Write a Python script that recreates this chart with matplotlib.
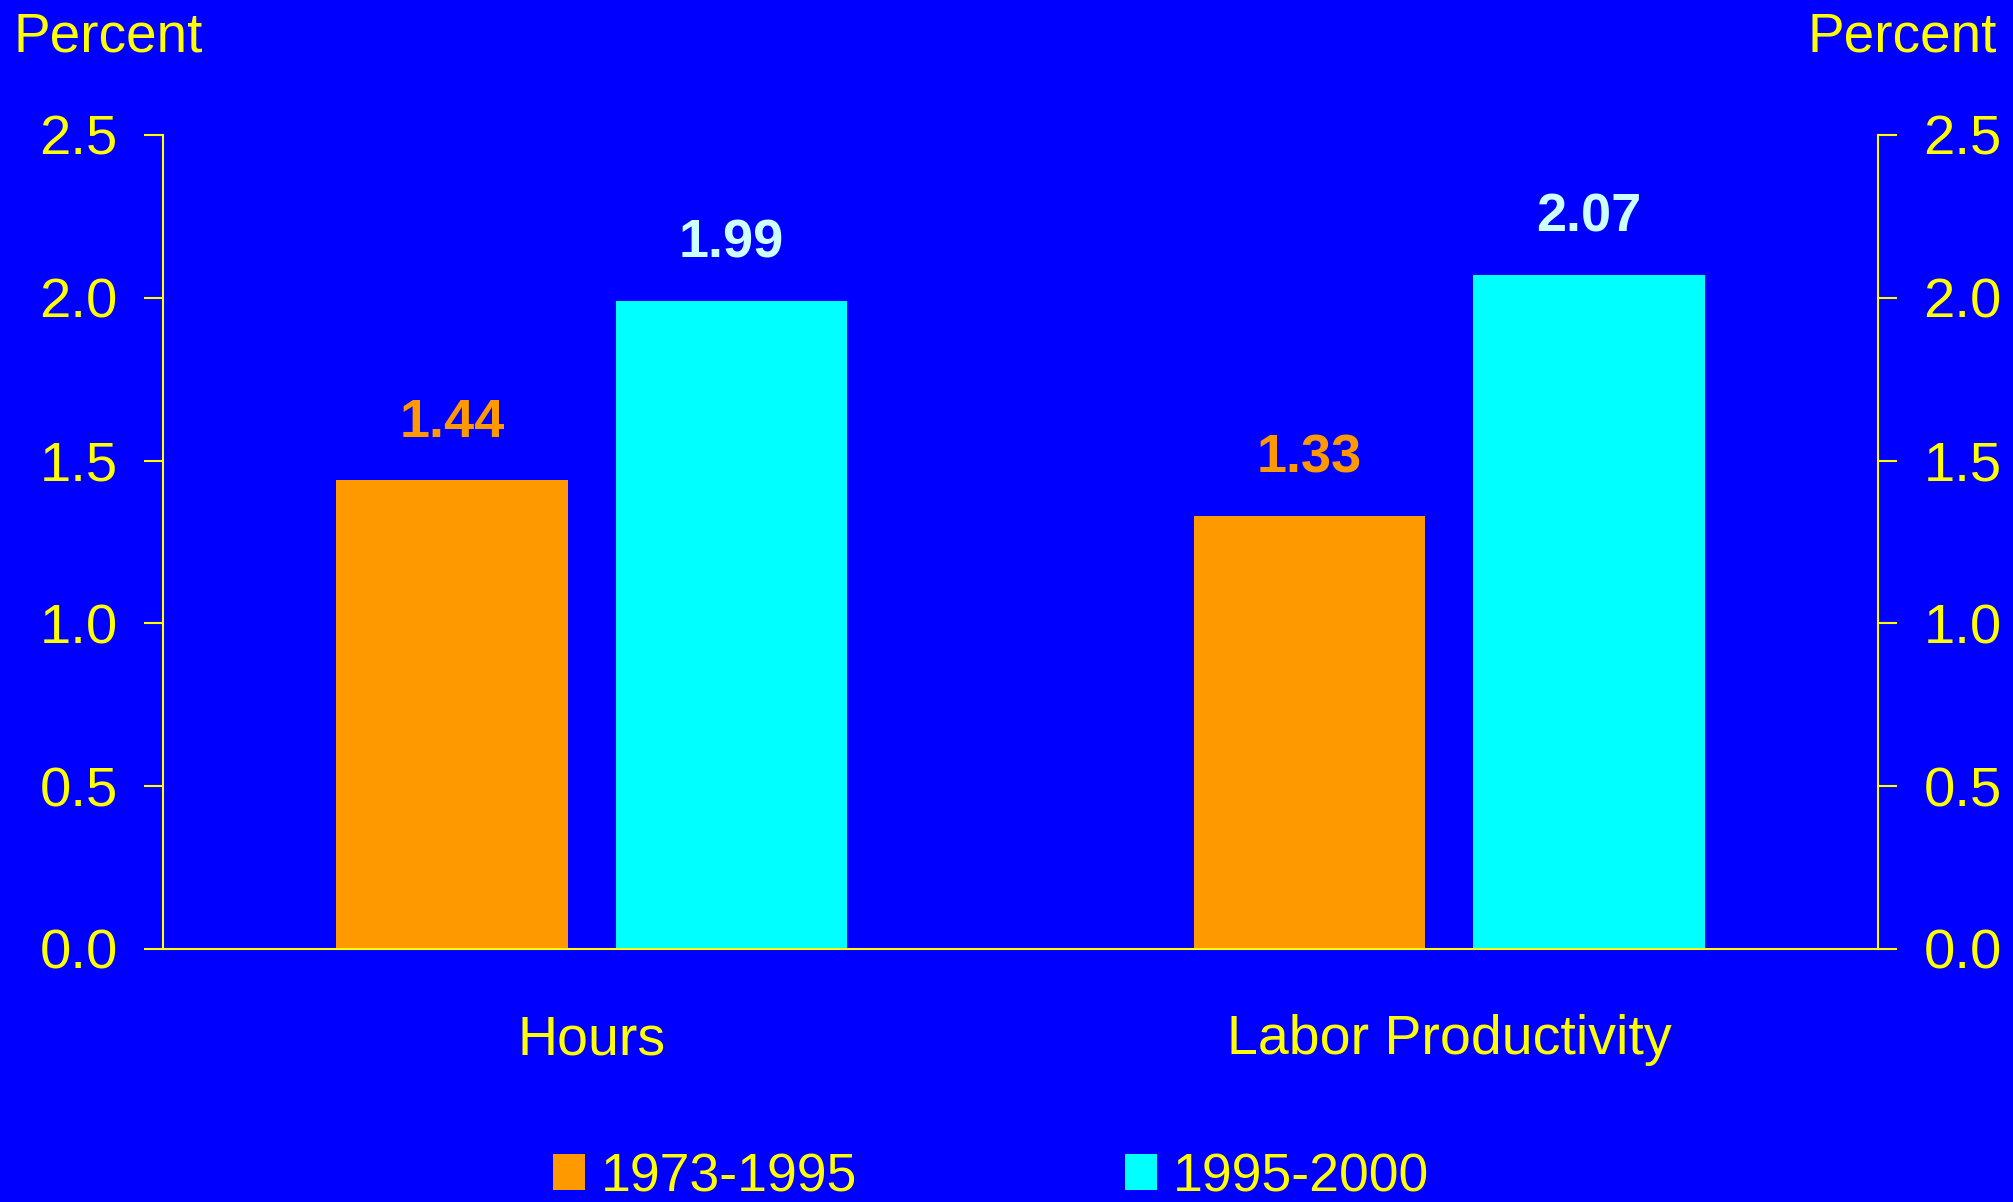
import matplotlib
matplotlib.use("Agg")
import matplotlib.pyplot as plt
import numpy as np
from matplotlib.patches import Patch

# Average annual growth, percent
categories = ["Hours", "Labor Productivity"]
periods = ["1973-1995", "1995-2000"]
growth_1973_1995 = [1.44, 1.33]
growth_1995_2000 = [1.99, 2.07]
y_ticks = [0.0, 0.5, 1.0, 1.5, 2.0, 2.5]

BG = "#0000FF"
YELLOW = "#FFFF00"
ORANGE = "#FF9900"
CYAN = "#00FFFF"
PALE_CYAN = "#CCFFFF"

plt.rcParams["font.family"] = ["Liberation Sans", "DejaVu Sans"]

fig = plt.figure(figsize=(20.13, 12.02), dpi=100, facecolor=BG)
ax = fig.add_axes([0.081, 0.2105, 0.852, 0.6772])
ax.set_facecolor(BG)

x = np.arange(len(categories))
width = 0.27
offset = 0.163

bars1 = ax.bar(x - offset, growth_1973_1995, width, color=ORANGE, label=periods[0])
bars2 = ax.bar(x + offset, growth_1995_2000, width, color=CYAN, label=periods[1])

for bars, vals, col in [(bars1, growth_1973_1995, ORANGE), (bars2, growth_1995_2000, PALE_CYAN)]:
    for b, v in zip(bars, vals):
        ax.annotate(f"{v:.2f}", (b.get_x() + b.get_width() / 2, v),
                    xytext=(0, 31), textcoords="offset points",
                    ha="center", va="baseline", fontsize=39,
                    fontweight="bold", color=col)

ax.set_xlim(-0.5, 1.5)
ax.set_ylim(0, 2.5)
ax.set_yticks(y_ticks)
ax.set_yticklabels([f"{t:.1f}" for t in y_ticks])
ax.set_xticks(x)
ax.set_xticklabels(categories)

for side in ["left", "right", "bottom"]:
    ax.spines[side].set_color(YELLOW)
    ax.spines[side].set_linewidth(1.5)
ax.spines["top"].set_visible(False)

ax.tick_params(axis="y", which="both", left=True, right=True,
               labelleft=True, labelright=True, direction="out",
               length=13.7, width=1.5, color=YELLOW, labelcolor=YELLOW,
               labelsize=40.5, pad=19)
ax.tick_params(axis="x", length=0, labelcolor=YELLOW, labelsize=40, pad=47)

fig.text(13 / 2013, 1 - 52 / 1202, "Percent", ha="left", va="baseline",
         fontsize=39.5, color=YELLOW)
fig.text(1997 / 2013, 1 - 52 / 1202, "Percent", ha="right", va="baseline",
         fontsize=39.5, color=YELLOW)

handles = [Patch(facecolor=ORANGE, edgecolor="none"),
           Patch(facecolor=CYAN, edgecolor="none")]
leg = fig.legend(handles, periods, loc="lower left",
                 bbox_to_anchor=(553 / 2013, 0.0), ncol=2, frameon=False,
                 fontsize=38.5, labelcolor=YELLOW, handlelength=0.6,
                 handleheight=0.65, handletextpad=0.3, columnspacing=5.0,
                 borderpad=0, borderaxespad=0)

fig.savefig("out.png", dpi=100, facecolor=BG)
